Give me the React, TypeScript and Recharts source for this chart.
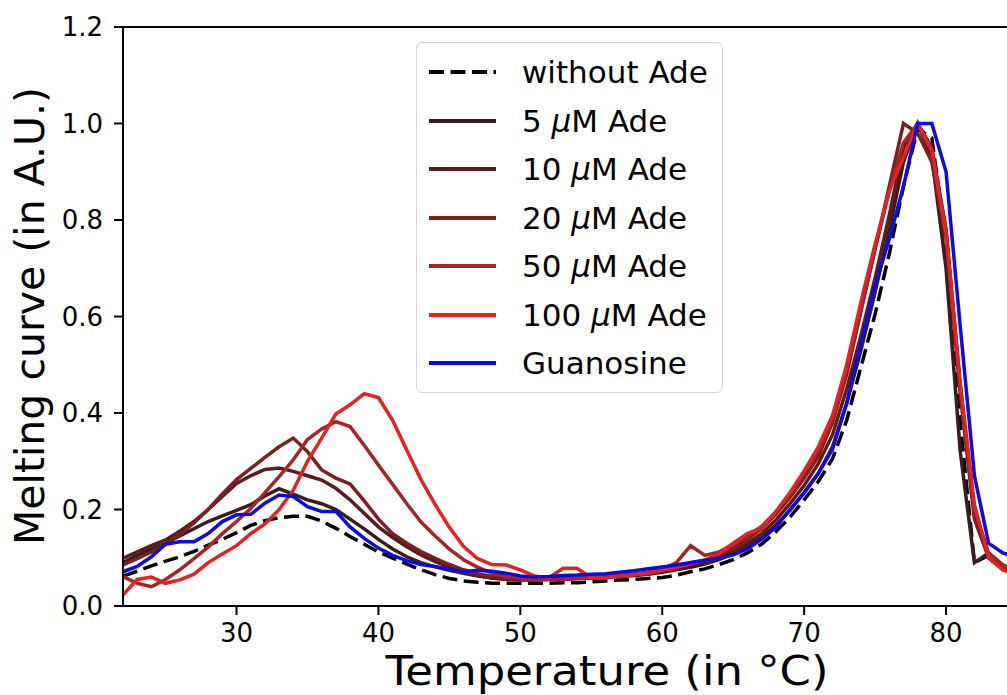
import { LineChart, Line, XAxis, YAxis, Legend, ReferenceLine } from "recharts";

// temperature steps (°C)
const temps = [
  22, 23, 24, 25, 26, 27, 28, 29, 30, 31, 32, 33, 34, 35, 36, 37, 38, 39, 40, 41,
  42, 43, 44, 45, 46, 47, 48, 49, 50, 51, 52, 53, 54, 55, 56, 57, 58, 59, 60, 61,
  62, 63, 64, 65, 66, 67, 68, 69, 70, 71, 72, 73, 74, 75, 76, 77, 78, 79, 80, 81,
  82, 83, 84, 85,
];

const withoutAde = [
  0.062, 0.072, 0.083, 0.093, 0.102, 0.113, 0.126, 0.138, 0.152, 0.167, 0.177, 0.183, 0.186, 0.186, 0.176, 0.161, 0.144, 0.128, 0.112, 0.099,
  0.087, 0.075, 0.065, 0.057, 0.052, 0.049, 0.047, 0.047, 0.047, 0.047, 0.047, 0.048, 0.048, 0.05, 0.052, 0.054, 0.055, 0.057, 0.059, 0.064,
  0.071, 0.077, 0.086, 0.096, 0.11, 0.128, 0.154, 0.184, 0.22, 0.258, 0.305, 0.385, 0.495, 0.605, 0.73, 0.87, 0.99, 0.97, 0.75, 0.38,
  0.09, 0.105, 0.085, 0.07,
];

const ade5 = [
  0.09, 0.105, 0.118, 0.13, 0.145, 0.16, 0.175, 0.187, 0.198, 0.21, 0.228, 0.243, 0.232, 0.22, 0.212, 0.2, 0.18, 0.16, 0.138, 0.118,
  0.102, 0.09, 0.081, 0.074, 0.068, 0.062, 0.058, 0.056, 0.055, 0.055, 0.056, 0.056, 0.057, 0.058, 0.059, 0.061, 0.063, 0.066, 0.07, 0.075,
  0.08, 0.087, 0.096, 0.108, 0.124, 0.142, 0.168, 0.198, 0.235, 0.275, 0.33, 0.42, 0.53, 0.65, 0.78, 0.92, 1.0, 0.93, 0.7, 0.32,
  0.09, 0.11, 0.085, 0.07,
];

const ade10 = [
  0.099, 0.112, 0.125, 0.137, 0.155, 0.175, 0.2, 0.227, 0.254, 0.27, 0.283, 0.286, 0.279, 0.27, 0.261, 0.244, 0.22, 0.192, 0.164, 0.142,
  0.123, 0.106, 0.092, 0.081, 0.071, 0.064, 0.058, 0.055, 0.054, 0.054, 0.055, 0.056, 0.057, 0.058, 0.06, 0.062, 0.064, 0.067, 0.072, 0.078,
  0.085, 0.092, 0.101, 0.113, 0.13, 0.15, 0.178, 0.212, 0.25, 0.295, 0.355, 0.45, 0.56, 0.68, 0.81, 0.95, 1.0, 0.95, 0.78, 0.45,
  0.19, 0.1, 0.075, 0.065,
];

const ade20 = [
  0.085, 0.098, 0.112, 0.128, 0.148, 0.172, 0.2, 0.232, 0.262, 0.285, 0.308, 0.33, 0.348, 0.32, 0.282, 0.265, 0.253, 0.218, 0.18, 0.15,
  0.13, 0.113, 0.099, 0.086, 0.075, 0.067, 0.061, 0.058, 0.056, 0.056, 0.056, 0.057, 0.058, 0.059, 0.061, 0.063, 0.066, 0.069, 0.074, 0.08,
  0.088, 0.095, 0.105, 0.12, 0.138, 0.16, 0.19, 0.225, 0.265, 0.31, 0.38, 0.48, 0.61, 0.74, 0.87, 1.0, 0.98, 0.92, 0.76, 0.44,
  0.18, 0.1, 0.08, 0.065,
];

const ade50 = [
  0.061, 0.047, 0.04, 0.055, 0.075, 0.098, 0.122, 0.15, 0.175, 0.202, 0.235, 0.268, 0.303, 0.345, 0.367, 0.382, 0.372, 0.333, 0.292, 0.252,
  0.212, 0.174, 0.145, 0.118, 0.096, 0.08, 0.068, 0.061, 0.057, 0.055, 0.055, 0.056, 0.057, 0.058, 0.06, 0.063, 0.066, 0.07, 0.076, 0.09,
  0.125, 0.105, 0.112, 0.128, 0.145, 0.165, 0.195, 0.232, 0.275, 0.322, 0.385, 0.49, 0.615, 0.74, 0.86, 0.96, 1.0, 0.94, 0.78, 0.46,
  0.2, 0.11, 0.085, 0.07,
];

const ade100 = [
  0.023, 0.055, 0.06, 0.047, 0.054, 0.066, 0.09, 0.108, 0.125, 0.15, 0.17, 0.2, 0.24, 0.3, 0.348, 0.398, 0.417, 0.44, 0.432, 0.385,
  0.323, 0.262, 0.21, 0.163, 0.123, 0.098, 0.086, 0.085, 0.075, 0.062, 0.058, 0.078, 0.078, 0.058, 0.058, 0.062, 0.065, 0.068, 0.074, 0.08,
  0.088, 0.095, 0.108, 0.13, 0.15, 0.162, 0.195, 0.235, 0.28, 0.33, 0.395, 0.5, 0.63, 0.75, 0.86, 0.93, 1.0, 0.945, 0.77, 0.46,
  0.21, 0.1, 0.075, 0.065,
];

const guanosine = [
  0.071, 0.082, 0.102, 0.128, 0.133, 0.133, 0.15, 0.175, 0.189, 0.19, 0.213, 0.23, 0.227, 0.206, 0.196, 0.196, 0.164, 0.14, 0.12, 0.105,
  0.094, 0.086, 0.082, 0.077, 0.071, 0.074, 0.072, 0.068, 0.062, 0.06, 0.061, 0.063, 0.064, 0.066, 0.067, 0.07, 0.073, 0.077, 0.081, 0.085,
  0.09, 0.095, 0.1, 0.106, 0.118, 0.138, 0.163, 0.2, 0.235, 0.275, 0.325, 0.42, 0.545, 0.665, 0.76, 0.87, 1.0, 1.0, 0.9, 0.58,
  0.27, 0.13, 0.11, 0.1,
];

const xTicks = [30, 40, 50, 60, 70, 80];
const yTicks = [0, 0.2, 0.4, 0.6, 0.8, 1.0, 1.2];

const series = [
  { key: "without", conc: "", name: "without Ade", color: "#000000", dash: "15 6.5", values: withoutAde },
  { key: "a5", conc: "5", name: "Ade", color: "#3b1c1c", dash: undefined, values: ade5 },
  { key: "a10", conc: "10", name: "Ade", color: "#5a1c1c", dash: undefined, values: ade10 },
  { key: "a20", conc: "20", name: "Ade", color: "#7c1f1f", dash: undefined, values: ade20 },
  { key: "a50", conc: "50", name: "Ade", color: "#a82424", dash: undefined, values: ade50 },
  { key: "a100", conc: "100", name: "Ade", color: "#e42222", dash: undefined, values: ade100 },
  { key: "guan", conc: "", name: "Guanosine", color: "#0c0cdc", dash: undefined, values: guanosine },
];

const data = temps.map((t, i) => {
  const row: any = { t };
  series.forEach((s) => (row[s.key] = s.values[i]));
  return row;
});

const FONT = "DejaVu Sans";

const renderLegend = () => (
  <div
    style={{
      width: 307,
      height: 351,
      boxSizing: "border-box",
      border: "1.5px solid #d4d4d4",
      borderRadius: 6,
      background: "rgba(255,255,255,0.85)",
      paddingTop: 5,
      fontFamily: FONT,
      fontSize: 31,
      color: "#000",
    }}
  >
    {series.map((s) => (
      <div key={s.key} style={{ display: "flex", alignItems: "center", height: 48.5 }}>
        <svg width={105} height={20} style={{ flex: "none" }}>
          <line x1={12} y1={10} x2={79} y2={10} stroke={s.color} strokeWidth={4} strokeDasharray={s.dash} />
        </svg>
        <span style={{ whiteSpace: "nowrap" }}>
          {s.conc ? (
            <>
              {s.conc} <span style={{ fontStyle: "italic" }}>μ</span>M {s.name}
            </>
          ) : (
            s.name
          )}
        </span>
      </div>
    ))}
  </div>
);

const YLabel = () => (
  <text
    x={44}
    y={316}
    transform="rotate(-90, 44, 316)"
    textAnchor="middle"
    fontFamily={FONT}
    fontSize={41}
    fill="#000"
  >
    Melting curve (in A.U.)
  </text>
);

const XLabel = () => (
  <text
    x={607}
    y={685}
    textAnchor="middle"
    fontFamily={FONT}
    fontSize={40}
    textLength={443}
    lengthAdjust="spacingAndGlyphs"
    fill="#000"
  >
    Temperature (in °C)
  </text>
);

export default function App() {
  return (
    <div
      style={{
        position: "fixed",
        left: 0,
        top: 0,
        width: 1007,
        height: 695,
        overflow: "hidden",
        background: "#fff",
      }}
    >
      <LineChart width={1030} height={695} data={data} margin={{ top: 27, right: 13, bottom: 0, left: 0 }}>
        <XAxis
          dataKey="t"
          type="number"
          domain={[22, 85]}
          ticks={xTicks}
          height={89}
          tickSize={9}
          tickMargin={9}
          axisLine={{ stroke: "#000", strokeWidth: 2 }}
          tickLine={{ stroke: "#000", strokeWidth: 2 }}
          tick={{ fill: "#000", fontSize: 26, fontFamily: FONT }}
          label={{ content: XLabel }}
        />
        <YAxis
          type="number"
          domain={[0, 1.2]}
          ticks={yTicks}
          width={123}
          tickSize={9}
          tickMargin={11}
          tickFormatter={(v: number) => v.toFixed(1)}
          axisLine={{ stroke: "#000", strokeWidth: 2 }}
          tickLine={{ stroke: "#000", strokeWidth: 2 }}
          tick={{ fill: "#000", fontSize: 26, fontFamily: FONT }}
          label={{ content: YLabel }}
        />
        <ReferenceLine y={1.2} stroke="#000" strokeWidth={2} />
        {series.map((s) => (
          <Line
            key={s.key}
            type="linear"
            dataKey={s.key}
            stroke={s.color}
            strokeWidth={3.5}
            strokeDasharray={s.dash}
            dot={false}
            activeDot={false}
            isAnimationActive={false}
          />
        ))}
        <Legend
          layout="vertical"
          verticalAlign="middle"
          align="center"
          content={renderLegend}
          wrapperStyle={{ left: 416, top: 42, width: 307 }}
        />
      </LineChart>
    </div>
  );
}
